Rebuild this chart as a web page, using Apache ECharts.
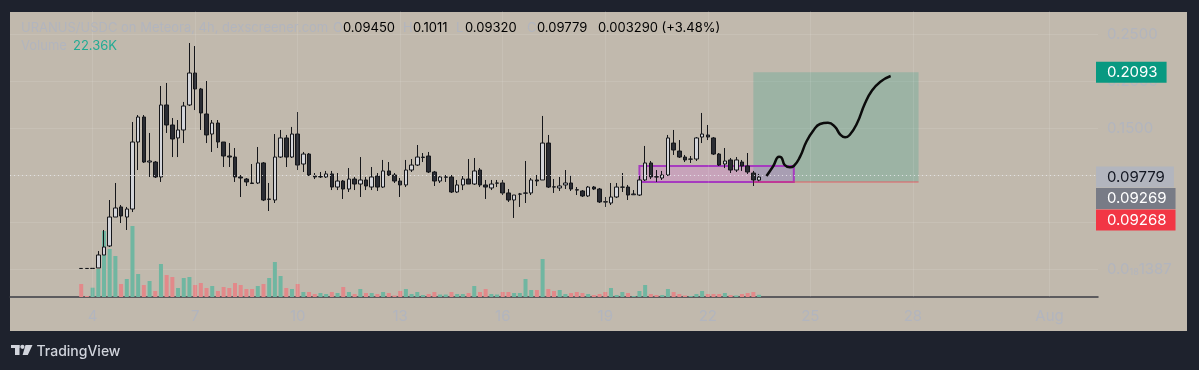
<!DOCTYPE html>
<html><head><meta charset="utf-8">
<script src="https://cdn.jsdelivr.net/npm/echarts@6/dist/echarts.min.js"></script>
<style>html,body{margin:0;padding:0;background:#1e222d;}#c{width:1199px;height:370px;}</style>
</head><body><div id="c"></div>
<script>
// ---- data (4h candles, URANUS/USDC) ----
const opens = [.0006,.0006,.0005,.0011,.0149,.0245,.0553,.0660,.0553,.0638,
.1351,.1617,.1138,.1138,.0979,.1745,.1532,.1394,.1479,.1745,
.2085,.1915,.1649,.1436,.1553,.1351,.1202,.1191,.0979,.0957,
.0915,.0915,.1128,.0740,.0734,.1191,.1394,.1191,.1436,.1117,
.1223,.0989,.0979,.0979,.1011,.0872,.0936,.0851,.0957,.0904,
.0947,.0872,.0989,.0872,.1043,.1000,.0936,.0894,.1053,.1106,
.1186,.1202,.1032,.0936,.0976,.0979,.0819,.0894,.0957,.0904,
.1053,.0894,.0862,.0913,.0915,.0809,.0734,.0796,.0806,.0809,
.0947,.0947,.1340,.0874,.0862,.0894,.0915,.0843,.0830,.0777,
.0872,.0851,.0715,.0702,.0766,.0870,.0872,.0790,.0787,.0947,
.1128,.0981,.0968,.1000,.1340,.1255,.1191,.1168,.1170,.1404,
.1426,.1394,.1223,.1117,.1160,.1053,.1138,.1096,.1021,.0945];
const closes = [.0005,.0005,.0007,.0149,.0234,.0553,.0649,.0564,.0638,.1351,
.1617,.1138,.1149,.0979,.1745,.1532,.1383,.1479,.1734,.2085,
.1915,.1660,.1426,.1553,.1351,.1202,.1191,.0979,.0968,.0926,
.0910,.1128,.0734,.0745,.1191,.1394,.1191,.1436,.1106,.1223,
.1000,.0979,.0984,.1011,.0872,.0936,.0851,.0957,.0904,.0947,
.0883,.0979,.0872,.1043,.1000,.0936,.0894,.1053,.1106,.1191,
.1191,.1032,.0936,.0979,.0979,.0819,.0894,.0957,.0904,.1043,
.0894,.0872,.0904,.0915,.0809,.0734,.0787,.0798,.0809,.0947,
.0936,.1340,.0872,.0872,.0883,.0915,.0851,.0840,.0777,.0872,
.0851,.0713,.0713,.0766,.0872,.0872,.0787,.0798,.0947,.1128,
.0979,.0979,.1000,.1394,.1266,.1191,.1160,.1170,.1394,.1436,
.1404,.1223,.1106,.1149,.1053,.1160,.1096,.1032,.0947,.09779];
const lows = [.0004,.0004,.0004,.0011,.0149,.0234,.0553,.0489,.0415,.0606,
.1053,.1128,.0979,.0968,.0926,.1447,.1191,.1191,.1340,.1734,
.1691,.1479,.1340,.1245,.1287,.1085,.1085,.0926,.0766,.0883,
.0904,.0904,.0723,.0617,.0702,.1181,.1085,.1181,.1053,.1032,
.0989,.0957,.0968,.0968,.0840,.0840,.0745,.0819,.0840,.0766,
.0840,.0840,.0830,.0862,.0989,.0915,.0766,.0872,.1032,.1096,
.1138,.1021,.0883,.0915,.0926,.0809,.0809,.0840,.0904,.0894,
.0872,.0745,.0840,.0872,.0787,.0713,.0543,.0660,.0702,.0787,
.0883,.0947,.0862,.0809,.0830,.0851,.0830,.0787,.0766,.0766,
.0840,.0702,.0660,.0681,.0755,.0819,.0734,.0787,.0777,.0936,
.0957,.0926,.0947,.0989,.1213,.1181,.1138,.1128,.1149,.1340,
.1372,.1213,.1096,.1074,.1021,.1032,.1043,.1011,.0883,.0932];
const highs = [.0009,.0007,.0009,.0191,.0415,.0734,.0915,.0681,.0660,.1564,
.1638,.1638,.1447,.1149,.1947,.1979,.1606,.1585,.1777,.2404,
.2372,.1926,.2000,.1585,.1585,.1351,.1340,.1287,.1000,.0968,
.1117,.1298,.1138,.0915,.1436,.1479,.1426,.1511,.1670,.1245,
.1234,.1021,.1032,.1043,.1043,.1021,.0947,.1074,.0979,.1191,
.0979,.1085,.1021,.1160,.1138,.1021,.0968,.1160,.1170,.1319,
.1234,.1245,.1043,.0989,.1000,.1000,.0947,.0989,.1170,.1181,
.1074,.0947,.0947,.0947,.0947,.0851,.0787,.0809,.1149,.0968,
.1000,.1628,.1426,.0957,.0979,.1053,.1000,.0872,.0840,.0883,
.0883,.0862,.0766,.0915,.0915,.1021,.0894,.0840,.0989,.1309,
.1149,.1053,.1043,.1426,.1479,.1372,.1213,.1202,.1404,.1660,
.1532,.1404,.1234,.1287,.1181,.1191,.1160,.1234,.1043,.1011];
const volumesK = [130,10,93,280,660,480,410,130,180,710,
230,120,160,60,330,220,200,90,190,200,
120,140,90,110,60,100,90,140,120,80,
80,110,130,190,350,210,90,80,130,50,
50,30,40,30,50,40,100,50,30,80,
40,40,30,50,40,15,60,80,30,50,
20,30,50,25,25,50,30,30,40,110,
50,80,30,25,50,50,40,40,180,70,
70,380,80,60,70,30,40,50,40,30,
20,30,50,90,20,50,40,10,60,120,
30,20,20,80,50,30,15,10,30,60,
30,30,30,40,20,15,30,40,50,22.36];

const slotCount = 191;          // 4h slots shown on the time axis
const firstCandleSlot = 12;     // Jul 3 16:00
const tickSlots = [14,32,50,68,86,104,122,140,158,182];
const tickLabels = ['4','7','10','13','16','19','22','25','28','Aug'];

const lastPrice = 0.09779;
const targetPrice = 0.2093, entryPrice = 0.09269, stopPrice = 0.09268;
const zoneStart = 110, zoneEnd = 137.1, zoneTop = 0.1096, zoneBottom = 0.0926;
const positionStart = 130, positionEnd = 159;
const sketchX = [132.3,133.5,134.5,134.9,135.5,136.4,137.1,138.2,139.3,140.5,141.7,143.1,144.3,145.3,146.1,146.9,148.2,149.6,150.8,152.3,154.1];
const sketchY = [.0989,.1096,.1195,.1188,.1106,.1082,.1096,.1195,.1354,.1471,.1543,.1556,.1514,.1426,.1401,.1426,.1550,.1763,.1897,.1993,.2053];

const header = {symbol:'URANUS/USDC on Meteora, 4h, dexscreener.com', o:'0.09450', h:'0.1011', l:'0.09320', c:'0.09779', chg:'0.003290 (+3.48%)', vol:'22.36K'};

// ---- styling ----
const BG = '#c1b9ad', FAINT = '#b2b5be', FONT = 'Inter, "Noto Sans", sans-serif';
const GRIDC = 'rgba(255,255,255,0.10)';
const VOL_UP = '#70b6a1', VOL_DOWN = '#e2898a';

const slotStart = Date.UTC(2024, 6, 1, 16);
const categories = Array.from({length: slotCount}, (_, i) => {
  const d = new Date(slotStart + i * 4 * 3600e3);
  return (d.getUTCMonth()+1) + '-' + d.getUTCDate() + ' ' + d.getUTCHours() + ':00';
});
const labelAt = {};
tickSlots.forEach((s, j) => labelAt[s] = tickLabels[j]);
const candleData = categories.map((_, i) => {
  const k = i - firstCandleSlot;
  return (k >= 0 && k < opens.length) ? [opens[k], closes[k], lows[k], highs[k]] : '-';
});
const volumeData = categories.map((_, i) => {
  const k = i - firstCandleSlot;
  if (k < 0 || k >= volumesK.length) return '-';
  return {value: volumesK[k], itemStyle: {color: closes[k] >= opens[k] ? VOL_UP : VOL_DOWN}};
});
const sketch = sketchX.map((x, i) => [x, sketchY[i]]);

const chart = echarts.init(document.getElementById('c'), null, {width: 1199, height: 370});
const gridL = 10, gridR = 101;
chart.setOption({
  animation: false,
  backgroundColor: '#1e222d',
  grid: [
    {left: gridL, right: gridR, top: 34, bottom: 101},
    {left: gridL, right: gridR, top: 11, bottom: 73}
  ],
  xAxis: [
    {type: 'category', gridIndex: 0, data: categories, show: false},
    {type: 'category', gridIndex: 1, data: categories,
     axisLine: {lineStyle: {color: '#3b3d44', width: 1.5}}, axisTick: {show: false},
     axisLabel: {interval: (i) => i in labelAt, formatter: (v, i) => labelAt[i] || '',
       color: FAINT, fontSize: 15, fontFamily: FONT, margin: 12},
     splitLine: {show: false}},
    {type: 'value', gridIndex: 0, min: -0.5, max: slotCount - 0.5, show: false}
  ],
  yAxis: [
    {type: 'value', gridIndex: 0, position: 'right', min: 0, max: 0.25, interval: 0.05,
     axisLine: {show: false}, axisTick: {show: false},
     splitLine: {lineStyle: {color: GRIDC}},
     axisLabel: {margin: 9, color: FAINT, fontFamily: FONT,
       formatter: v => v === 0 ? '{n|0.0}{s|18}{n|1387}' : '{n|' + v.toFixed(4) + '}',
       rich: {n: {fontSize: 15, color: FAINT, fontFamily: FONT},
              s: {fontSize: 9, color: FAINT, fontFamily: FONT, verticalAlign: 'bottom', padding: [7,0,0,0]}}}},
    {type: 'value', gridIndex: 1, min: 0, max: 2860, show: false}
  ],
  series: [
    {type: 'bar', name: 'volume', xAxisIndex: 1, yAxisIndex: 1, data: volumeData, barWidth: 4, z: 1,
     markLine: {silent: true, symbol: 'none', label: {show: false},
       lineStyle: {color: GRIDC, type: 'solid', width: 1},
       data: tickSlots.map(s => ({xAxis: s}))}},
    {type: 'line', name: 'zones', xAxisIndex: 2, yAxisIndex: 0, data: [], z: 2, silent: true,
     markArea: {silent: true, data: [
       [{coord: [positionStart, targetPrice], itemStyle: {color: 'rgba(8,153,129,0.2)', borderWidth: 0}},
        {coord: [positionEnd, entryPrice]}],
       [{coord: [zoneStart, zoneTop], itemStyle: {color: 'rgba(225,64,251,0.18)', borderColor: '#a63bbf', borderWidth: 2}},
        {coord: [zoneEnd, zoneBottom]}]
     ]},
     markLine: {silent: true, symbol: 'none', label: {show: false},
       data: [[{coord: [positionStart, stopPrice], lineStyle: {color: 'rgba(242,54,69,0.45)', width: 1.5, type: 'solid'}},
               {coord: [positionEnd, stopPrice]}]]}},
    {type: 'candlestick', name: 'price', xAxisIndex: 0, yAxisIndex: 0, data: candleData, barWidth: 4, z: 3,
     itemStyle: {color: '#d3d4d9', color0: '#2a2c33', borderColor: '#15161a', borderColor0: '#15161a', borderWidth: 1},
     markLine: {silent: true, symbol: 'none', label: {show: false},
       lineStyle: {color: 'rgba(232,232,238,0.8)', type: [1, 3], width: 1},
       data: [{yAxis: lastPrice}]}},
    {type: 'line', name: 'sketch', xAxisIndex: 2, yAxisIndex: 0, data: sketch, smooth: 0.5, showSymbol: false,
     lineStyle: {color: '#0b0b0b', width: 2.5}, z: 5, silent: true}
  ]
});

// ---- price tags on the right scale, stacked to avoid overlap ----
const tags = [
  {v: targetPrice, t: '0.2093', bg: '#089981', fg: '#ffffff'},
  {v: lastPrice, t: '0.09779', bg: '#b2b5be', fg: '#131722'},
  {v: entryPrice, t: '0.09269', bg: '#787b86', fg: '#ffffff'},
  {v: stopPrice, t: '0.09268', bg: '#f23645', fg: '#ffffff'}
];
let prev = -1e9;
const tagEls = tags.map((tg, i) => {
  let y = chart.convertToPixel({yAxisIndex: 0}, tg.v);
  if (y < prev + 21.5) y = prev + 21.5;
  prev = y;
  return {type: 'text', id: 'tag' + i, x: 1096, y: y, z: 50,
    style: {text: tg.t, fill: tg.fg, font: '15px ' + FONT, backgroundColor: tg.bg,
      padding: [3, 9, 3, 11], verticalAlign: 'middle', align: 'left'}};
});

const hdr = (id, x, y, text, fill) => ({type: 'text', id, x, y, z: 50,
  style: {text, fill, font: '13px ' + FONT, verticalAlign: 'middle', align: 'left'}});

chart.setOption({graphic: {elements: [
  {type: 'rect', id: 'panel', z: -10, silent: true, shape: {x: 10, y: 12, width: 1177, height: 319}, style: {fill: BG}},
  hdr('h1', 21, 28, header.symbol, FAINT),
  hdr('h2', 333, 28, 'O', FAINT), hdr('h3', 343, 28, header.o, '#000000'),
  hdr('h4', 403, 28, 'H', FAINT), hdr('h5', 413, 28, header.h, '#000000'),
  hdr('h6', 456, 28, 'L', FAINT), hdr('h7', 465, 28, header.l, '#000000'),
  hdr('h8', 527, 28, 'C', FAINT), hdr('h9', 537, 28, header.c, '#000000'),
  hdr('h10', 598, 28, header.chg, '#000000'),
  hdr('v1', 21, 46.5, 'Volume', FAINT), hdr('v2', 73, 46.5, header.vol, '#22ab94'),
  ...tagEls,
  {type: 'rect', id: 'lg1', shape: {x: 11, y: 345, width: 8.5, height: 3}, style: {fill: '#d1d4dc'}},
  {type: 'rect', id: 'lg2', shape: {x: 15, y: 345, width: 4.5, height: 10}, style: {fill: '#d1d4dc'}},
  {type: 'circle', id: 'lg3', shape: {cx: 22.4, cy: 346.8, r: 2.1}, style: {fill: '#d1d4dc'}},
  {type: 'polygon', id: 'lg4', shape: {points: [[25.5,345],[32.5,345],[27.8,355],[22.6,355]]}, style: {fill: '#d1d4dc'}},
  {type: 'text', id: 'lg5', x: 36.5, y: 351.5, style: {text: 'TradingView', fill: '#d1d4dc', font: '500 14px ' + FONT, verticalAlign: 'middle'}}
]}});
</script></body></html>
